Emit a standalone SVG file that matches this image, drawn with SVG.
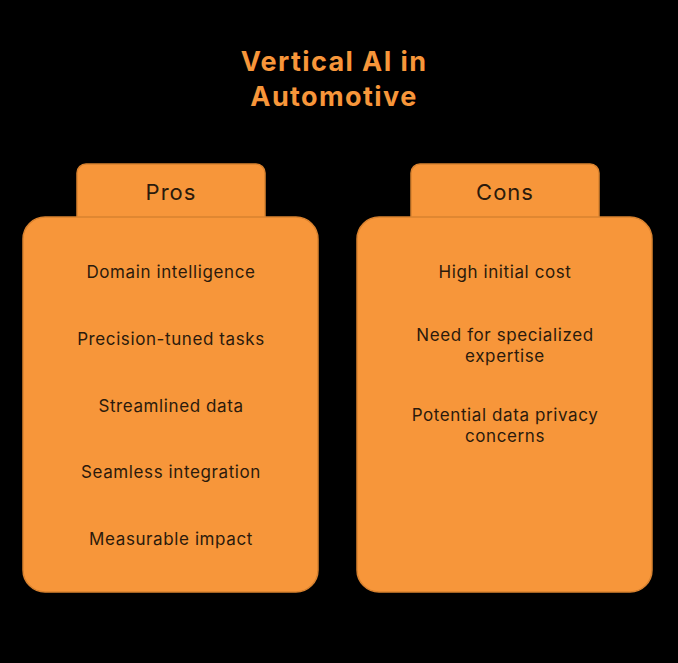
<svg xmlns="http://www.w3.org/2000/svg" width="678" height="663" viewBox="0 0 678 663">
<style>
.box{fill:#F7963A;stroke:#D9822F;stroke-width:1.5}
.t{font-family:Inter,"Open Sans",sans-serif;fill:#2B1A0C;text-anchor:middle}
.hd{font-size:22px;letter-spacing:1px}
.it{font-size:17px;letter-spacing:0.6px}
.ti{font-family:Inter,"Open Sans",sans-serif;font-weight:700;font-size:27px;letter-spacing:1.4px;fill:#F7963A;text-anchor:middle}
</style>
<rect width="678" height="663" fill="#000"/>
<text class="ti" x="334" y="71">Vertical AI in</text>
<text class="ti" x="334" y="106">Automotive</text>
<g id="pros">
<rect class="box" x="77" y="164" width="188" height="70" rx="9"/>
<rect class="box" x="23" y="217" width="295" height="375" rx="22"/>
<text class="t hd" x="171" y="200">Pros</text>
<text class="t it" x="171" y="278">Domain intelligence</text>
<text class="t it" x="171" y="345">Precision-tuned tasks</text>
<text class="t it" x="171" y="412">Streamlined data</text>
<text class="t it" x="171" y="478">Seamless integration</text>
<text class="t it" x="171" y="545">Measurable impact</text>
</g>
<g id="cons">
<rect class="box" x="411" y="164" width="188" height="70" rx="9"/>
<rect class="box" x="357" y="217" width="295" height="375" rx="22"/>
<text class="t hd" x="505" y="200">Cons</text>
<text class="t it" x="505" y="278">High initial cost</text>
<text class="t it" x="505" y="341">Need for specialized</text>
<text class="t it" x="505" y="362">expertise</text>
<text class="t it" x="505" y="421">Potential data privacy</text>
<text class="t it" x="505" y="442">concerns</text>
</g>
<g id="connectors"/>
</svg>
